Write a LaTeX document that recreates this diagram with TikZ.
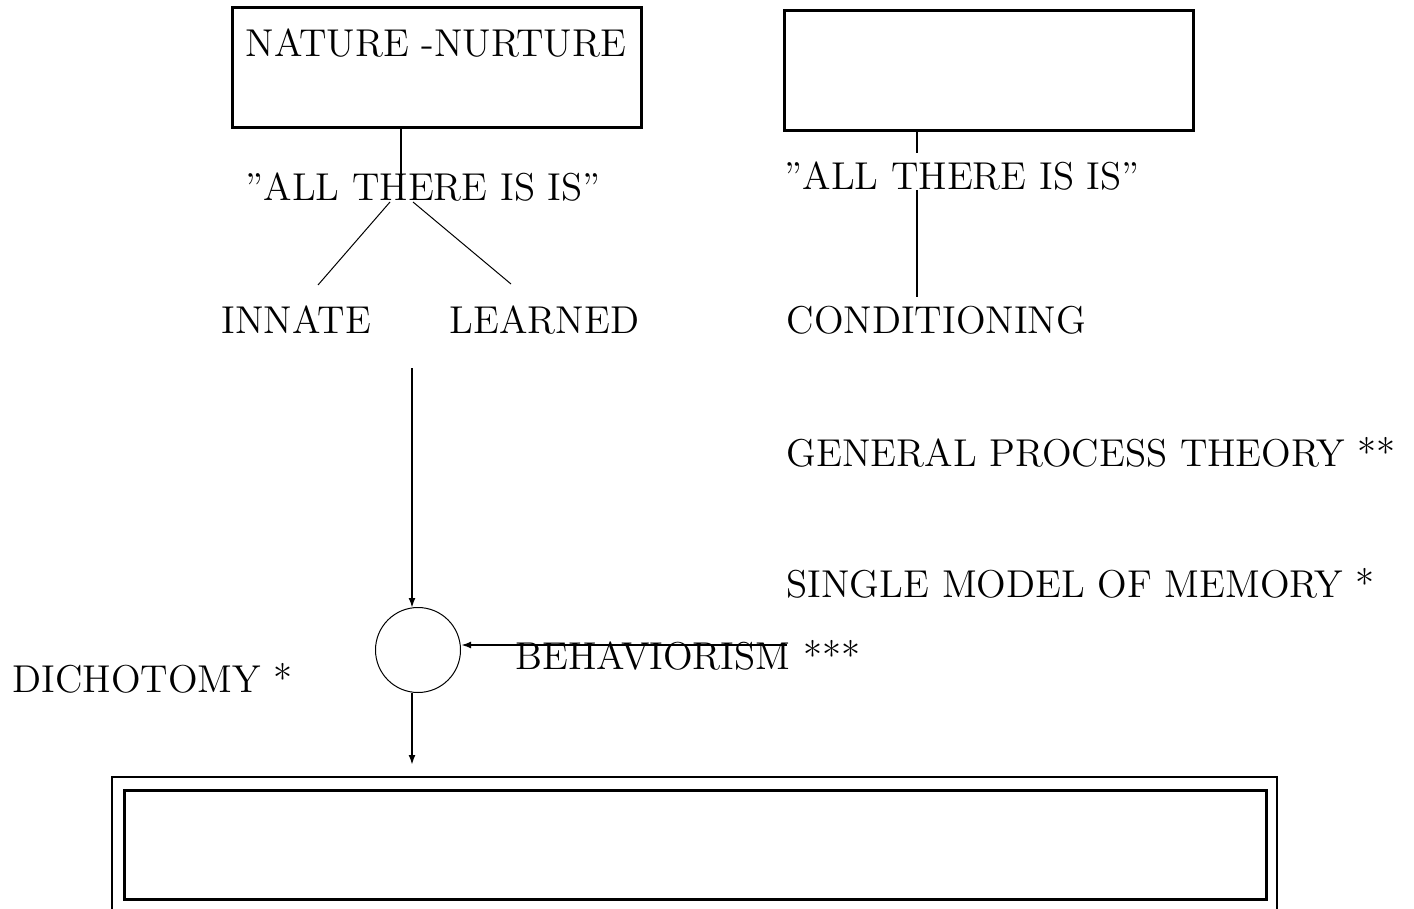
\documentclass[tikz,border=0pt]{standalone}
\usetikzlibrary{arrows.meta}
\usetikzlibrary{positioning}

\begin{document}
\begin{tikzpicture}[
			x=0.5pt, y=-0.5pt,
			every node/.style={inner sep=0pt},
			txt/.style={font=\fontsize{12}{14.4}\selectfont, scale=1.617, anchor=base west},
			frame/.style={line width=1.5pt},
			link/.style={line width=1pt},
			twig/.style={line width=0.5pt},
			flow/.style={line width=1pt, -{Latex[length=5pt, width=3.5pt]}}
		]

		\useasboundingbox (0,0) rectangle (1414,909);

		% top boxes
		\draw[frame] (232,8) rectangle (641,128);
		\draw[frame] (784,11) rectangle (1193,131);
		\coordinate (natbot) at (401,128);
		\coordinate (condbot) at (917,131);
		\node[txt] (nature) at (245,57) {NATURE -NURTURE};

		% labels
		\node[txt] (allL) at (245,201) {''ALL THERE IS IS''};
		\node[txt] (allR) at (784,190) {''ALL THERE IS IS''};
		\node[txt] (innate) at (221,334) {INNATE};
		\node[txt] (learned) at (449,334) {LEARNED};
		\node[txt] (cond) at (786,334) {CONDITIONING};
		\node[txt] (gpt) at (786,466) {GENERAL PROCESS THEORY **};
		\node[txt] (smm) at (786,597) {SINGLE MODEL OF MEMORY *};
		\node[txt] (behav) at (515,669) {BEHAVIORISM ***};
		\node[txt] (dich) at (12,692) {DICHOTOMY *};

		% left tree
		\coordinate (hub) at (401,200);
		\coordinate (forkL) at (390,202);
		\coordinate (forkR) at (413,202);
		\coordinate (tipL) at (318,285);
		\coordinate (tipR) at (511,284);
		\draw[link] (natbot) -- (hub);
		\draw[twig] (forkL) -- (tipL);
		\draw[twig] (forkR) -- (tipR);

		% right stem, broken by the label
		\coordinate (stemA) at (917,153);
		\coordinate (stemB) at (917,190);
		\coordinate (stemC) at (917,297);
		\draw[link] (condbot) -- (stemA);
		\draw[link] (stemB) -- (stemC);

		% junction circle
		\node[draw, circle, minimum size=42.5pt, line width=0.5pt] (junc) at (418,650) {};
		\coordinate (start) at (412,368);
		\coordinate (junctop) at (412,608);
		\coordinate (juncbot) at (412,693);
		\coordinate (end) at (412,765);
		\coordinate (behavR) at (787,645);
		\draw[flow] (start) -- (junctop);
		\draw[flow] (behavR) -- (junc.east |- behavR);
		\draw[flow] (juncbot) -- (end);

		% bottom double frame
		\draw[link] (112,909) |- (1277,777) -- (1277,909);
		\draw[frame] (124,790) rectangle (1266,899);

	\end{tikzpicture}
\end{document}
